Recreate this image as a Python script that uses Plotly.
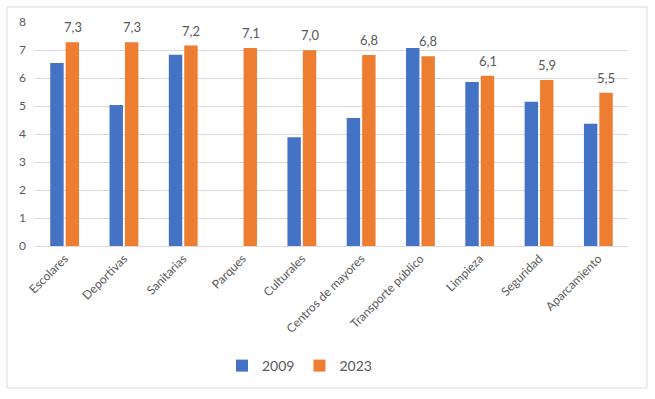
import plotly.graph_objects as go

categories = ["Escolares", "Deportivas", "Sanitarias", "Parques", "Culturales",
              "Centros de mayores", "Transporte público", "Limpieza", "Seguridad", "Aparcamiento"]
values_2009 = [6.54, 5.04, 6.83, None, 3.88, 4.57, 7.07, 5.86, 5.15, 4.37]
values_2023 = [7.28, 7.28, 7.16, 7.07, 6.99, 6.82, 6.78, 6.08, 5.93, 5.47]
labels_2023 = [f"{v:.1f}".replace(".", ",") for v in values_2023]
y_ticks = list(range(0, 9))

W, H = 655, 399
L, R, T, B = 35, 27, 22, 153
pw, ph = W - L - R, H - T - B

def px_x(x):
    return (x - L) / pw

def px_y(y):
    return (H - B - y) / ph

fig = go.Figure()
fig.add_trace(go.Bar(x=categories, y=values_2009, name="2009",
                     marker=dict(color="#4472C4", line=dict(width=0))))
fig.add_trace(go.Bar(x=categories, y=values_2023, name="2023",
                     marker=dict(color="#ED7D31", line=dict(width=0))))

for c, v, t in zip(categories, values_2023, labels_2023):
    fig.add_annotation(x=c, y=v, text=t, showarrow=False, xanchor="center", yanchor="bottom",
                       xshift=8, yshift=5, font=dict(color="#595959", size=13))

fig.add_shape(type="rect", xref="paper", yref="paper",
              x0=px_x(7), x1=px_x(647), y0=px_y(388), y1=px_y(7),
              line=dict(color="#D9D9D9", width=1), layer="below")

fig.update_layout(
    width=W, height=H,
    margin=dict(l=L, r=R, t=T, b=B, autoexpand=False),
    paper_bgcolor="white", plot_bgcolor="white",
    font=dict(family="Lato, Open Sans, sans-serif", color="#595959", size=12),
    barmode="group", bargap=0.48, bargroupgap=0.13,
    showlegend=True,
    legend=dict(orientation="h", x=px_x(222), xanchor="left", y=px_y(366), yanchor="middle",
                font=dict(size=14, color="#595959"), itemwidth=30, bgcolor="rgba(0,0,0,0)"),
    xaxis=dict(tickangle=-45, showgrid=False, showline=True, linecolor="#D9D9D9",
               ticks="", tickfont=dict(size=12, color="#595959")),
    yaxis=dict(range=[0, 8], tickvals=y_ticks, showgrid=True, gridcolor="#D9D9D9",
               zeroline=False, showline=False, ticks="", ticklabelstandoff=8,
               tickfont=dict(size=12, color="#595959")),
)

fig.write_html("out.html", config={"displayModeBar": False},
               post_script="document.body.style.margin='0';document.body.style.padding='0';document.body.style.overflow='hidden';")
